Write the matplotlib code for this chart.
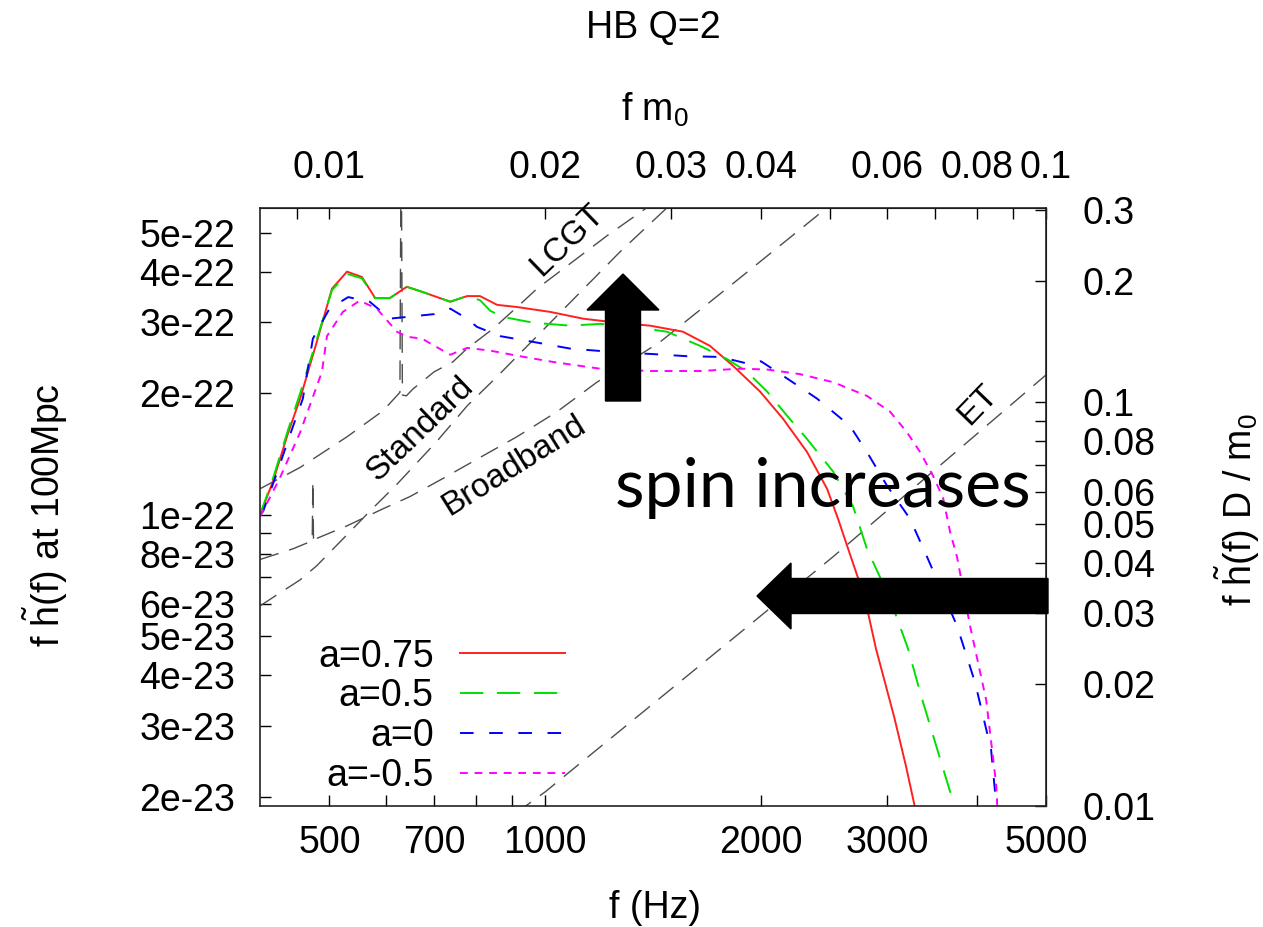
import matplotlib
matplotlib.use('Agg')
import matplotlib.pyplot as plt
from matplotlib.patches import FancyArrow
from matplotlib.transforms import IdentityTransform
from matplotlib.ticker import NullLocator

plt.rcParams['font.family'] = ['Liberation Sans', 'DejaVu Sans']
plt.rcParams['mathtext.fontset'] = 'custom'
plt.rcParams['mathtext.rm'] = 'Liberation Sans'
plt.rcParams['mathtext.it'] = 'Liberation Sans:italic'
plt.rcParams['mathtext.bf'] = 'Liberation Sans:bold'

# spectra f*h(f) at 100 Mpc
f_075 = [400, 417, 438, 455, 480, 504, 529, 555, 579, 607, 641, 675, 737, 778, 811, 857, 913,
         1016, 1129, 1260, 1401, 1557, 1698, 1828, 1994, 2147, 2320, 2474, 2563, 2647, 2750,
         2822, 2895, 3069, 3189, 3272, 3300]
h_075 = [1.0e-22, 1.21e-22, 1.60e-22, 1.94e-22, 2.68e-22, 3.63e-22, 4.0e-22, 3.88e-22, 3.44e-22,
         3.44e-22, 3.67e-22, 3.56e-22, 3.37e-22, 3.48e-22, 3.48e-22, 3.31e-22, 3.27e-22, 3.18e-22,
         3.06e-22, 2.99e-22, 2.94e-22, 2.84e-22, 2.62e-22, 2.34e-22, 2.02e-22, 1.73e-22, 1.43e-22,
         1.16e-22, 9.77e-23, 8.24e-23, 6.75e-23, 5.72e-23, 4.66e-23, 3.16e-23, 2.38e-23, 1.93e-23,
         1.8e-23]

f_05 = [400, 417, 438, 455, 480, 504, 529, 555, 579, 607, 641, 675, 737, 778, 811, 838, 873, 962,
        1083, 1193, 1327, 1479, 1645, 1794, 1913, 2040, 2175, 2320, 2522, 2689, 2812, 3029, 3209,
        3357, 3524, 3709, 3740]
h_05 = [1.0e-22, 1.23e-22, 1.63e-22, 2.0e-22, 2.72e-22, 3.6e-22, 3.95e-22, 3.85e-22, 3.44e-22,
        3.44e-22, 3.67e-22, 3.56e-22, 3.37e-22, 3.48e-22, 3.40e-22, 3.20e-22, 3.09e-22, 2.99e-22,
        2.94e-22, 2.97e-22, 2.92e-22, 2.84e-22, 2.62e-22, 2.43e-22, 2.26e-22, 2.02e-22, 1.76e-22,
        1.54e-22, 1.28e-22, 1.05e-22, 8.24e-23, 6.19e-23, 4.66e-23, 3.50e-23, 2.63e-23, 1.95e-23,
        1.8e-23]

f_0 = [400, 404, 423, 440, 459, 474, 500, 531, 569, 607, 641, 700, 737, 778, 803, 865, 962, 1083,
       1243, 1414, 1578, 1754, 1932, 2000, 2147, 2395, 2663, 2812, 3000, 3230, 3411, 3756, 3981,
       4191, 4259, 4290]
h_0 = [1.0e-22, 1.02e-22, 1.28e-22, 1.57e-22, 1.94e-22, 2.73e-22, 3.24e-22, 3.46e-22, 3.37e-22,
       3.06e-22, 3.09e-22, 3.14e-22, 3.24e-22, 3.06e-22, 2.92e-22, 2.77e-22, 2.68e-22, 2.58e-22,
       2.53e-22, 2.50e-22, 2.47e-22, 2.46e-22, 2.36e-22, 2.40e-22, 2.21e-22, 1.94e-22, 1.66e-22,
       1.43e-22, 1.18e-22, 9.77e-23, 7.87e-23, 5.31e-23, 3.84e-23, 2.62e-23, 1.93e-23, 1.77e-23]

f_m05 = [400, 426, 455, 488, 496, 522, 551, 582, 621, 641, 673, 737, 778, 838, 922, 1026, 1193,
         1401, 1645, 1870, 2040, 2268, 2522, 2812, 3029, 3199, 3336, 3477, 3592, 3673, 3756, 3917,
         4125, 4259, 4273, 4285]
h_m05 = [9.9e-23, 1.23e-22, 1.60e-22, 2.26e-22, 2.77e-22, 3.18e-22, 3.39e-22, 3.24e-22, 2.84e-22,
         2.76e-22, 2.73e-22, 2.49e-22, 2.59e-22, 2.55e-22, 2.47e-22, 2.39e-22, 2.30e-22, 2.27e-22,
         2.27e-22, 2.30e-22, 2.29e-22, 2.23e-22, 2.13e-22, 1.97e-22, 1.80e-22, 1.60e-22, 1.43e-22,
         1.25e-22, 1.10e-22, 9.08e-23, 7.87e-23, 5.31e-23, 3.48e-23, 2.16e-23, 1.93e-23, 1.77e-23]

# detector noise curves
f_std = [400, 455, 529, 594, 627, 629, 630, 632, 640, 654, 700, 743, 778, 846, 931, 974, 1220,
         1392, 1494]
h_std = [1.16e-22, 1.31e-22, 1.56e-22, 1.81e-22, 2.01e-22, 7e-22, 7e-22, 1.98e-22, 1.97e-22,
         2.05e-22, 2.26e-22, 2.39e-22, 2.58e-22, 2.89e-22, 3.37e-22, 3.63e-22, 4.91e-22, 5.79e-22,
         6.34e-22]

f_lcgt = [400, 455, 480, 534, 569, 621, 706, 778, 857, 1039, 1272, 1484, 1543]
h_lcgt = [5.95e-23, 6.90e-23, 7.48e-23, 9.08e-23, 1.02e-22, 1.19e-22, 1.52e-22, 1.86e-22,
          2.20e-22, 3.11e-22, 4.48e-22, 5.79e-22, 6.19e-22]

f_bb = [400, 445, 473, 474, 475, 477, 529, 594, 648, 720, 819, 913, 1039, 1181, 1447, 1870,
        2395, 2498]
h_bb = [7.75e-23, 8.24e-23, 8.62e-23, 1.21e-22, 8.5e-23, 8.7e-23, 9.39e-23, 1.035e-22, 1.11e-22,
        1.23e-22, 1.40e-22, 1.56e-22, 1.80e-22, 2.13e-22, 2.68e-22, 3.86e-22, 5.50e-22, 5.89e-22]

f_et = [908, 1000, 2522, 5000]
h_et = [1.82e-23, 2.06e-23, 7.87e-23, 2.22e-22]

x_ticks = [500, 600, 700, 800, 900, 1000, 2000, 3000, 4000, 5000]
x_labels = ['500', '', '700', '', '', '1000', '2000', '3000', '', '5000']
y_ticks = [2e-23, 3e-23, 4e-23, 5e-23, 6e-23, 7e-23, 8e-23, 9e-23, 1e-22, 2e-22, 3e-22, 4e-22, 5e-22]
y_labels = ['2e-23', '3e-23', '4e-23', '5e-23', '6e-23', '', '8e-23', '', '1e-22', '2e-22',
            '3e-22', '4e-22', '5e-22']
top_ticks = [0.009, 0.01, 0.02, 0.03, 0.04, 0.05, 0.06, 0.07, 0.08, 0.09, 0.1]
top_labels = ['', '0.01', '0.02', '0.03', '0.04', '', '0.06', '', '0.08', '', '0.1']
r_ticks = [0.01, 0.02, 0.03, 0.04, 0.05, 0.06, 0.07, 0.08, 0.09, 0.1, 0.2, 0.3]
r_labels = ['0.01', '0.02', '0.03', '0.04', '0.05', '0.06', '', '0.08', '', '0.1', '0.2', '0.3']

FS = 27
fig = plt.figure(figsize=(12.63, 9.27), dpi=100)
ax = fig.add_axes([0.2059, 0.1305, 0.6223, 0.6451])

noise_kw = dict(color='0.3', lw=1.0, dashes=(14, 8))
for fx, hx in [(f_std, h_std), (f_lcgt, h_lcgt), (f_bb, h_bb), (f_et, h_et)]:
    ax.plot(fx, hx, **noise_kw)

ax.plot(f_075, h_075, color='#ff2020', lw=1.4, label='a=0.75')
ax.plot(f_05, h_05, color='#00e000', lw=1.4, dashes=(12, 7), label='a=0.5')
ax.plot(f_0, h_0, color='#0000ff', lw=1.4, dashes=(7, 8), label='a=0')
ax.plot(f_m05, h_m05, color='#ff00ff', lw=1.4, dashes=(4, 3.5), label='a=-0.5')

ax.set_xscale('log')
ax.set_yscale('log')
ax.set_xlim(400, 5000)
ax.set_ylim(1.9e-23, 5.75e-22)
ax.set_xticks(x_ticks, x_labels)
ax.set_yticks(y_ticks, y_labels)
ax.xaxis.set_minor_locator(NullLocator())
ax.yaxis.set_minor_locator(NullLocator())
ax.tick_params(axis='x', direction='in', length=8, width=1, labelsize=FS, pad=14)
ax.tick_params(axis='y', direction='in', length=8, width=1, labelsize=FS, pad=18)
for s in ax.spines.values():
    s.set_linewidth(1.2)
    s.set_color('#222222')

K = 0.01 / 1.9e-23
secy = ax.secondary_yaxis('right', functions=(lambda h: h * K, lambda r: r / K))
secy.set_yticks(r_ticks, r_labels)
secy.yaxis.set_minor_locator(NullLocator())
secy.tick_params(direction='in', length=8, width=1, labelsize=FS, pad=26)
secx = ax.secondary_xaxis('top', functions=(lambda f: f * 2e-5, lambda m: m / 2e-5))
secx.set_xticks(top_ticks, top_labels)
secx.xaxis.set_minor_locator(NullLocator())
secx.tick_params(direction='in', length=8, width=1, labelsize=FS, pad=16)

# detector labels
ax.text(669, 1.63e-22, 'Standard', rotation=44, ha='center', va='center', rotation_mode='anchor', fontsize=24)
ax.text(903, 1.32e-22, 'Broadband', rotation=32, ha='center', va='center', rotation_mode='anchor', fontsize=24)
ax.text(1072, 4.78e-22, 'LCGT', rotation=44, ha='center', va='center', rotation_mode='anchor', fontsize=24)
ax.text(4020, 1.87e-22, 'ET', rotation=46, ha='center', va='center', rotation_mode='anchor', fontsize=24)

leg = ax.legend(loc='upper right', bbox_to_anchor=(0.388, 0.28), frameon=False, markerfirst=False,
                fontsize=FS, handlelength=2.8, handletextpad=0.7, labelspacing=0.1,
                borderpad=0, borderaxespad=0)

ax.set_xlabel('f (Hz)', fontsize=FS)
ax.xaxis.set_label_coords(0.5025, -0.17)
ax.xaxis.label.set_va('center')
ax.set_ylabel(r'f $\tilde{\mathregular{h}}$(f) at 100Mpc', fontsize=FS)
ax.yaxis.set_label_coords(-0.2735, 0.487)
ax.yaxis.label.set_va('center')
secx.set_xlabel(r'f m$_\mathregular{0}$', fontsize=FS)
secx.xaxis.set_label_coords(0.5025, 1.164, transform=ax.transAxes)
secx.xaxis.label.set_va('center')
secy.set_ylabel(r'f $\tilde{\mathregular{h}}$(f) D / m$_\mathregular{0}$', fontsize=FS, rotation=90)
secy.yaxis.set_label_coords(1.243, 0.495, transform=ax.transAxes)
secy.yaxis.label.set_va('center')
ax.set_title('HB Q=2', fontsize=FS, y=1.271)

# slide annotations (pixel coordinates, origin bottom-left)
H = 927
fig.add_artist(FancyArrow(623, H - 401, 0, 127, width=35, head_width=72, head_length=36,
                          length_includes_head=True, color='black', transform=IdentityTransform()))
fig.add_artist(FancyArrow(1048, H - 596, -291, 0, width=35, head_width=66, head_length=34,
                          length_includes_head=True, color='black', transform=IdentityTransform()))
fig.text(615 / 1263, 1 - 507 / 927, 'spin increases', fontsize=49, family=['Lato', 'DejaVu Sans'],
         ha='left', va='baseline')

fig.savefig('out.png', dpi=100)
